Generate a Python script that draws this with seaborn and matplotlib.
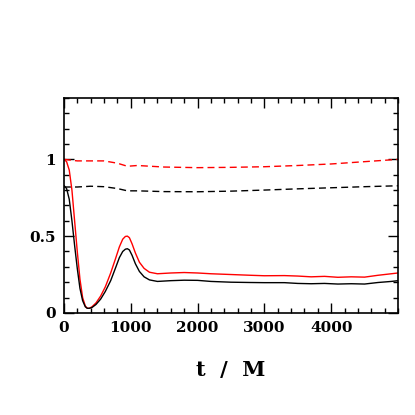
import numpy as np
import pandas as pd
import matplotlib
matplotlib.use("Agg")
import matplotlib.pyplot as plt
import seaborn as sns
from matplotlib.ticker import MultipleLocator

# solid curves (t in M)
t_solid = [0, 40, 80, 120, 160, 200, 240, 280, 320, 350, 380, 420, 480, 550, 620, 700,
           770, 830, 880, 920, 950, 980, 1020, 1070, 1130, 1200, 1280, 1400, 1600, 1800,
           2000, 2200, 2500, 2800, 3000, 3300, 3500, 3700, 3900, 4100, 4300, 4500, 4700,
           4900, 5000]
red_solid = [1.0, 0.985, 0.93, 0.8, 0.6, 0.4, 0.22, 0.1, 0.045, 0.03, 0.03, 0.04, 0.065,
             0.11, 0.17, 0.26, 0.35, 0.43, 0.48, 0.498, 0.5, 0.49, 0.45, 0.39, 0.33,
             0.29, 0.265, 0.255, 0.26, 0.263, 0.26, 0.255, 0.25, 0.245, 0.242, 0.243,
             0.24, 0.235, 0.238, 0.232, 0.235, 0.233, 0.245, 0.255, 0.26]
black_solid = [0.83, 0.81, 0.74, 0.6, 0.44, 0.29, 0.16, 0.08, 0.04, 0.03, 0.03, 0.035, 0.055,
               0.09, 0.14, 0.21, 0.29, 0.36, 0.4, 0.415, 0.418, 0.41, 0.375, 0.32, 0.27,
               0.235, 0.215, 0.205, 0.21, 0.213, 0.212, 0.205, 0.2, 0.198, 0.197, 0.197,
               0.192, 0.19, 0.192, 0.188, 0.19, 0.188, 0.198, 0.205, 0.21]

# dashed curves
t_dash = [0, 200, 400, 600, 800, 950, 1100, 1500, 2000, 2500, 3000, 3500, 4000, 4500, 5000]
red_dash = [1.0, 0.99, 0.99, 0.99, 0.975, 0.955, 0.96, 0.95, 0.946, 0.948, 0.952, 0.96, 0.97, 0.985, 1.0]
black_dash = [0.82, 0.82, 0.825, 0.822, 0.81, 0.795, 0.795, 0.79, 0.789, 0.793, 0.8, 0.808, 0.815, 0.822, 0.828]

sns.set_style("ticks")
plt.rcParams["font.family"] = ["DejaVu Serif"]
plt.rcParams["text.color"] = "black"
plt.rcParams["xtick.color"] = "black"
plt.rcParams["ytick.color"] = "black"
plt.rcParams["axes.edgecolor"] = "black"

fig = plt.figure(figsize=(4.15, 4.15), dpi=100)
ax = fig.add_axes([0.154, 0.246, 0.805, 0.518])

sns.lineplot(x=t_dash, y=red_dash, ax=ax, color="red", lw=1.0, linestyle=(0, (5, 3)))
sns.lineplot(x=t_dash, y=black_dash, ax=ax, color="black", lw=1.0, linestyle=(0, (5, 3)))
sns.lineplot(x=t_solid, y=red_solid, ax=ax, color="red", lw=1.0)
sns.lineplot(x=t_solid, y=black_solid, ax=ax, color="black", lw=1.0)

ax.set_xlim(0, 5000)
ax.set_ylim(0, 1.4)
ax.set_xticks([0, 1000, 2000, 3000, 4000])
ax.set_yticks([0, 0.5, 1])
ax.set_yticklabels(["0", "0.5", "1"])
ax.xaxis.set_minor_locator(MultipleLocator(200))
ax.yaxis.set_minor_locator(MultipleLocator(0.1))
ax.tick_params(which="both", direction="in", top=True, right=True, width=1.0)
ax.tick_params(which="major", length=7, labelsize=11, pad=6)
ax.tick_params(which="minor", length=3.5)
for lab in ax.get_xticklabels() + ax.get_yticklabels():
    lab.set_fontweight("bold")
for sp in ax.spines.values():
    sp.set_linewidth(1.2)

ax.set_xlabel("t  /  M", fontsize=15, fontweight="bold", labelpad=18, color="black")
ax.set_ylabel("")

fig.savefig("out.png", dpi=100)
